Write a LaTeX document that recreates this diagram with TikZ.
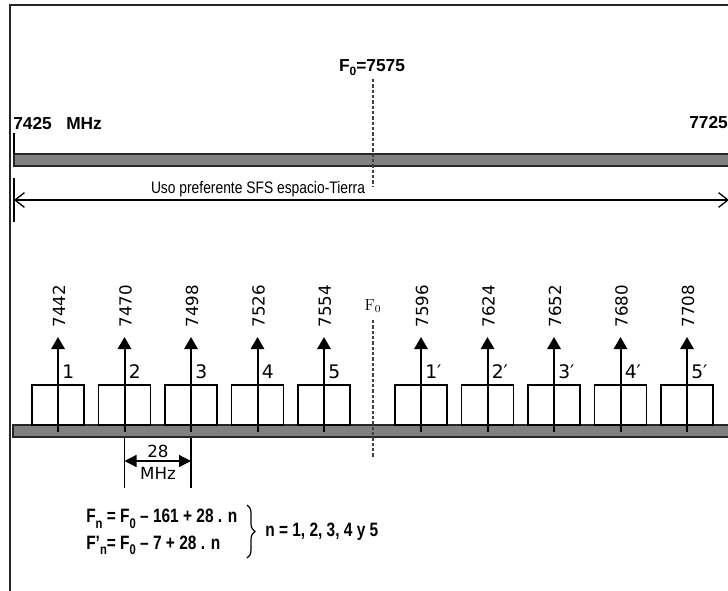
\documentclass[tikz,border=0pt]{standalone}
\usepackage{fontspec}
\newfontfamily\arialf{Liberation Sans}
\newfontfamily\narrowf[FakeStretch=0.8]{Liberation Sans}
\newfontfamily\usof[FakeStretch=0.83]{Liberation Sans}
\newfontfamily\dejaf{DejaVu Sans}
\usetikzlibrary{arrows.meta,decorations.pathreplacing}
\newcommand\sbx[1]{\raisebox{-0.55ex}{\fontsize{10.5}{10}\selectfont #1}}
\newcommand\sbt[1]{\raisebox{-0.45ex}{\fontsize{9}{9}\selectfont #1}}
\tikzset{
  frame/.style={line width=1.2pt,draw=black!85},
  bar/.style={draw=black!85,line width=1.1pt,fill=black!50},
  chbox/.style={draw=black,line width=0.8pt,fill=white,minimum width=39pt,minimum height=30pt,inner sep=0pt},
  carrier/.style={line width=1.5pt,-{Triangle[length=9pt,width=10pt]}},
  toplbl/.style={inner sep=0pt,font=\arialf\bfseries\fontsize{13}{15}\selectfont},
  freqlbl/.style={inner sep=0pt,rotate=90,font=\dejaf\fontsize{12.5}{14}\selectfont},
  chlbl/.style={inner sep=0pt,anchor=west,font=\dejaf\fontsize{14}{16}\selectfont},
  centre/.style={line width=0.8pt,draw=black!75,dash pattern=on 2.5pt off 1.5pt},
  tick/.style={line width=1pt},
  dimarrow/.style={line width=1pt,{Triangle[length=9pt,width=9pt]}-{Triangle[length=9pt,width=9pt]}},
  spanarrow/.style={line width=1pt,{Straight Barb[length=7pt,width=11pt]}-{Straight Barb[length=7pt,width=11pt]}},
  formula/.style={inner sep=0pt,font=\narrowf\bfseries\fontsize{14.5}{20}\selectfont}
}
\begin{document}
\begin{tikzpicture}[x=0.75pt,y=-0.75pt]
\useasboundingbox (0,0) rectangle (728,590);
\fill[white] (0,0) rectangle (728,590);
% frame
\draw[frame] (10,600) -- (10,5) -- (740,5);
% top band
\draw[bar] (14,154) rectangle (740,166);
\coordinate (lt1) at (14,133);
\coordinate (lt2) at (14,154);
\draw[tick] (lt1) -- (lt2);
\node[toplbl,anchor=west] (lo) at (13,124) {7425\ \ \ MHz};
\node[toplbl,anchor=west] (hi) at (689,123) {7725};
\node[toplbl] (f0top) at (372,68) {F\sbt{0}=7575};
\coordinate (d1a) at (373,79);
\coordinate (d1b) at (373,187);
\draw[centre] (d1a) -- (d1b);
% span arrow
\coordinate (st1) at (14,178);
\coordinate (st2) at (14,222);
\draw[tick] (st1) -- (st2);
\coordinate (sa) at (14,200);
\coordinate (sb) at (729,200);
\draw[spanarrow] (sa) -- (sb);
\node[inner sep=0pt,font=\usof\fontsize{12.5}{14}\selectfont] (uso) at (258,189) {Uso preferente SFS espacio-Tierra};
% lower band
\draw[bar] (13,425) rectangle (740,437);
% F0 lower
\node[inner sep=0pt,font=\fontsize{12}{14}\selectfont] (f0b) at (373,306) {F$_0$};
\coordinate (d2a) at (373,320);
\coordinate (d2b) at (373,458);
\draw[centre] (d2a) -- (d2b);
% channels
\foreach \i/\x/\f/\l in {1/58/7442/1,2/124.5/7470/2,3/191/7498/3,4/257.5/7526/4,5/324/7554/5,
  6/421/7596/1′,7/487.5/7624/2′,8/554/7652/3′,9/620.5/7680/4′,10/687/7708/5′}{
  \node[chbox] (box\i) at (\x,405) {};
  \coordinate (cb\i) at (\x,432);
  \coordinate (ct\i) at (\x,337);
  \draw[carrier] (cb\i) -- (ct\i);
  \node[freqlbl] (fq\i) at (\x+1,306) {\f};
  \node[chlbl] (nl\i) at (\x+4,372) {\l};
}
% 28 MHz dimension
\coordinate (v1a) at (124.5,438);
\coordinate (v1b) at (124.5,488);
\coordinate (v2a) at (191,438);
\coordinate (v2b) at (191,488);
\draw[tick] (v1a) -- (v1b);
\draw[tick] (v2a) -- (v2b);
\coordinate (da) at (124.5,461);
\coordinate (db) at (191,461);
\draw[dimarrow] (da) -- (db);
\node[inner sep=0pt,font=\dejaf\fontsize{12.5}{14}\selectfont] (d28) at (158,451) {28};
\node[inner sep=0pt,font=\dejaf\fontsize{12.5}{14}\selectfont] (dmhz) at (158,473) {MHz};
% formulas
\node[formula,anchor=west,align=left] (form) at (86,532) {F\sbx{n} = F\sbx{0} – 161 + 28 . n\\F’\sbx{n}= F\sbx{0} – 7 + 28 . n};
\coordinate (bra) at (247,505);
\coordinate (brb) at (247,558);
\draw[line width=0.9pt,decorate,decoration={brace,amplitude=6pt}] (bra) -- (brb);
\node[formula,anchor=west] (nvals) at (265,532) {n = 1, 2, 3, 4 y 5};
\end{tikzpicture}
\end{document}
